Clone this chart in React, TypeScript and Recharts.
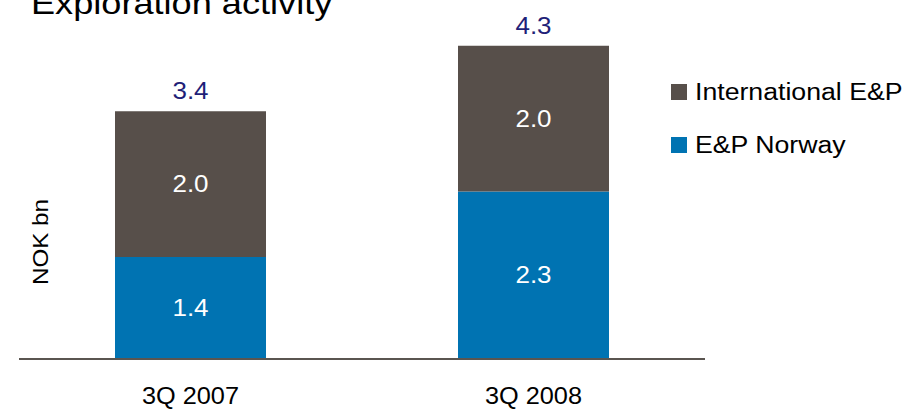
import React from "react";
import { BarChart, Bar, XAxis, YAxis, LabelList, Customized } from "recharts";

const categories = ["3Q 2007", "3Q 2008"];
const norway = [1.4, 2.3];
const international = [2.0, 2.0];
const totals = [3.4, 4.3];
const seriesNames = ["International E&P", "E&P Norway"];

const data = categories.map((c, i) => ({
  name: c,
  norway: norway[i],
  international: international[i],
  total: totals[i],
}));

const FONT = "'Liberation Sans', Arial, sans-serif";
const BLUE = "#0073b2";
const GRAY = "#574f4a";

const SText = (props: any) => {
  const { x, y, anchor = "start", sx = 1.13, size = 23, fill = "#000", children } = props;
  return (
    <text
      transform={`translate(${x},${y}) scale(${sx},1)`}
      textAnchor={anchor}
      fill={fill}
      fontSize={size}
      fontFamily={FONT}
    >
      {children}
    </text>
  );
};

const TotalLabel = (props: any) => {
  const { x, y, width, index } = props;
  return (
    <SText x={x + width / 2} y={y - 12} anchor="middle" fill="#1f1f78">
      {totals[index].toFixed(1)}
    </SText>
  );
};

const InnerLabel = (props: any) => {
  const { x, y, width, height, value } = props;
  return (
    <SText x={x + width / 2} y={y + height / 2 + 8} anchor="middle" fill="#ffffff">
      {Number(value).toFixed(1)}
    </SText>
  );
};

const Tick = (props: any) => {
  const { x, payload } = props;
  return (
    <SText x={x} y={404} anchor="middle" sx={1.1}>
      {payload.value}
    </SText>
  );
};

export default function App() {
  return (
    <div style={{ position: "absolute", left: 0, top: 0, width: 920, height: 411, background: "#fff", overflow: "hidden" }}>
      <BarChart
        width={920}
        height={411}
        data={data}
        margin={{ top: 2, right: 215, bottom: 22, left: 19 }}
        barCategoryGap={0}
      >
        <XAxis
          dataKey="name"
          axisLine={{ stroke: "#5a5550", strokeWidth: 2 }}
          tickLine={false}
          tick={<Tick />}
          height={30}
        />
        <YAxis hide domain={[0, 4.9]} />
        <Bar dataKey="norway" stackId="a" fill={BLUE} barSize={151} isAnimationActive={false}>
          <LabelList dataKey="norway" content={InnerLabel} />
        </Bar>
        <Bar dataKey="international" stackId="a" fill={GRAY} barSize={151} isAnimationActive={false}>
          <LabelList dataKey="international" content={InnerLabel} />
          <LabelList dataKey="international" content={TotalLabel} />
        </Bar>
        <Customized
          component={() => (
            <g>
              <text
                transform="translate(31,14) scale(1.13,1)"
                fontSize={32}
                fontFamily={FONT}
                fill="#000"
              >
                Exploration activity
              </text>
              <text
                transform="translate(48,242) rotate(-90) scale(1.1,1)"
                textAnchor="middle"
                fontSize={22}
                fontFamily={FONT}
                fill="#000"
              >
                NOK bn
              </text>
              <rect x={671} y={84} width={16} height={16} fill={GRAY} />
              <SText x={695} y={100} sx={1.16}>{seriesNames[0]}</SText>
              <rect x={671} y={137} width={16} height={16} fill={BLUE} />
              <SText x={695} y={153} sx={1.16}>{seriesNames[1]}</SText>
            </g>
          )}
        />
      </BarChart>
    </div>
  );
}
